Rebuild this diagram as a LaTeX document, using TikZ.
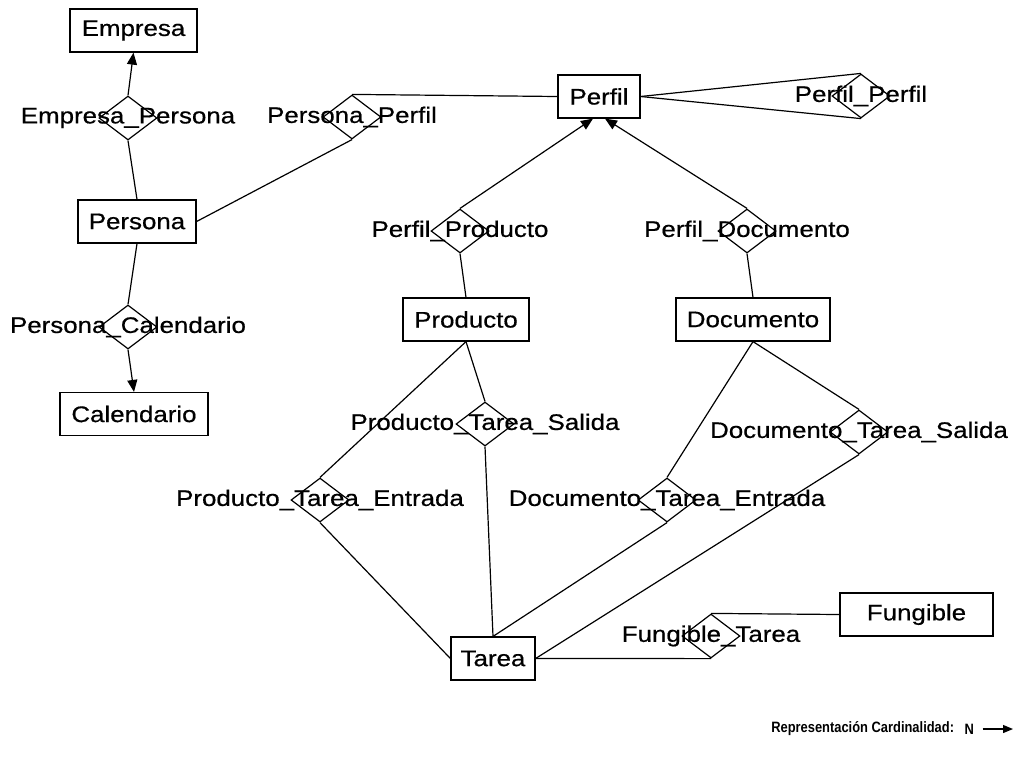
\documentclass[tikz,border=0pt]{standalone}
\usepackage{fontspec}
\setmainfont{Liberation Sans}[FakeStretch=1.15,FakeBold=0.6]
\newfontfamily\legendfont{Liberation Sans}[FakeStretch=0.86]
\usetikzlibrary{shapes.geometric,arrows.meta}

\begin{document}
\begin{tikzpicture}[x=1pt,y=-1pt,
  line width=1.2pt,
  every node/.style={font=\fontsize{22.5}{26}\selectfont},
  entity/.style={draw, rectangle, minimum height=43pt, inner sep=0pt},
  rel/.style={draw, diamond, minimum width=58pt, minimum height=44pt, inner sep=0pt},
  card/.style={-{Triangle[length=12pt,width=10pt]}},
  legendtext/.style={font=\legendfont\bfseries\fontsize{15}{18}\selectfont},
]
\useasboundingbox (0,0) rectangle (1016,756);

% entities
\node[entity, minimum width=127pt] (Empresa)    at (133.5,30.5) {Empresa};
\node[entity, minimum width=118pt] (Persona)    at (137,221.5)  {Persona};
\node[entity, minimum width=148pt] (Calendario) at (134,414)    {Calendario};
\node[entity, minimum width=82pt]  (Perfil)     at (599,96.5)   {Perfil};
\node[entity, minimum width=126pt] (Producto)   at (466,319.5)  {Producto};
\node[entity, minimum width=154pt] (Documento)  at (753,319.5)  {Documento};
\node[entity, minimum width=84pt]  (Tarea)      at (493,658.5)  {Tarea};
\node[entity, minimum width=153pt] (Fungible)   at (916.5,614.5){Fungible};

% relationships
\node[rel, label={center:Empresa\_Persona}]          (EP)   at (128,118) {};
\node[rel, label={center:Persona\_Perfil}]           (PP)   at (352,117) {};
\node[rel, label={center:Perfil\_Perfil}]            (PfPf) at (861,96)  {};
\node[rel, label={center:Perfil\_Producto}]          (PfPr) at (460,231) {};
\node[rel, label={center:Perfil\_Documento}]         (PfD)  at (747,231) {};
\node[rel, label={center:Persona\_Calendario}]       (PC)   at (128,327) {};
\node[rel, label={center:Producto\_Tarea\_Salida}]   (PTS)  at (485,424) {};
\node[rel, label={center:Producto\_Tarea\_Entrada}]  (PTE)  at (320,500) {};
\node[rel, label={center:Documento\_Tarea\_Entrada}] (DTE)  at (667,500) {};
\node[rel, label={center:Documento\_Tarea\_Salida}]  (DTS)  at (859,432) {};
\node[rel, label={center:Fungible\_Tarea}]           (FT)   at (711,636) {};

% connectors
\draw[card] (EP.north) -- (Empresa.south);
\draw (EP.south) -- (Persona.north);
\draw (Persona.east) -- (PP.south);
\draw (PP.north) -- (Perfil.west);
\draw (Persona.south) -- (PC.north);
\draw[card] (PC.south) -- (Calendario.north);
\draw (Perfil.east) -- (PfPf.north);
\draw (Perfil.east) -- (PfPf.south);
\draw[card] (PfPr.north) -- ([xshift=-6pt]Perfil.south);
\draw[card] (PfD.north) -- ([xshift=6pt]Perfil.south);
\draw (PfPr.south) -- (Producto.north);
\draw (PfD.south) -- (Documento.north);
\draw (Producto.south) -- (PTE.north);
\draw (Producto.south) -- (PTS.north);
\draw (PTS.south) -- (Tarea.north);
\draw (PTE.south) -- (Tarea.west);
\draw (Documento.south) -- (DTE.north);
\draw (Documento.south) -- (DTS.north);
\draw (DTE.south) -- (Tarea.north);
\draw (DTS.south) -- (Tarea.east);
\draw (Tarea.east) -- (FT.south);
\draw (Fungible.west) -- (FT.north);

% legend
\node[anchor=east, legendtext] (legtxt) at (958,729) {Representación Cardinalidad:};
\node[anchor=west, inner sep=0pt, legendtext] (legN) at (964,729) {N};
\coordinate (legEnd) at (1013,729);
\draw[-{Triangle[length=10pt,width=8pt]}] ([xshift=8pt]legN.east) -- (legEnd);
\end{tikzpicture}
\end{document}
